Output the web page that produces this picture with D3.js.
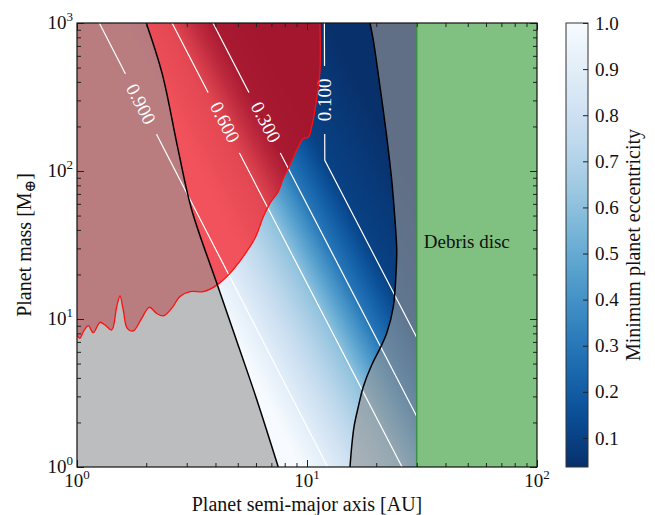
<!DOCTYPE html>
<html>
<head>
<meta charset="utf-8">
<style>
    body {
        margin: 0;
        background: #fff;
    }
    svg {
        display: block;
    }
    text {
        font-family: "Liberation Serif", "DejaVu Serif", serif;
        fill: #111;
    }
    .axis .domain {
        display: none;
    }
    .axis .tick line {
        stroke: #222;
        stroke-width: 1;
    }
    .tick-label {
        font-size: 19px;
    }
    .axis-title {
        font-size: 20px;
    }
    .contour-label {
        font-size: 19px;
        fill: #fff;
    }
    .cbar .tick text {
        font-size: 19px;
        font-family: "Liberation Serif", "DejaVu Serif", serif;
        fill: #111;
    }
</style>
</head>
<body>
<svg width="655" height="515"></svg>

<script src="https://cdnjs.cloudflare.com/ajax/libs/d3/7.8.5/d3.min.js"></script>
<script>
    // ---- data ----
    let xMajor = [1, 10, 100];
    let yMajor = [1, 10, 100, 1000];
    let cbTicks = [0.1, 0.2, 0.3, 0.4, 0.5, 0.6, 0.7, 0.8, 0.9, 1.0];
    let cbRange = [0.037, 1.0];

    // iso-eccentricity lines run as M ~ a^-3; each level is given by
    // the semi-major axis [AU] where it crosses 1 Earth mass
    let isoSlope = -3;
    let eccLevels = [1.0, 0.9, 0.6, 0.3, 0.1, 0.037];
    let eccAtOneMass = [9.3, 12.3, 25.9, 39.0, 58.8, 126];

    // white contours [a (AU), M (Earth masses)]
    let contourNames = ["0.900", "0.600", "0.300", "0.100"];
    let contourLines = [
        [[1.25, 1000], [12.3, 1]],
        [[2.59, 1000], [25.9, 1]],
        [[3.90, 1000], [39.0, 1]],
        [[11.9, 1000], [11.95, 118], [58.8, 1]]
    ];
    let contourLabelAt = [[1.90, 284], [4.40, 214], [6.63, 214], [11.91, 302]];

    // red boundary (lower edge of the red region)
    let redEdge = [
        [1.0, 7.8], [1.03, 7.41], [1.065, 8.2], [1.12, 9.01], [1.177, 8.08],
        [1.259, 9.5], [1.324, 9.11], [1.415, 8.43], [1.488, 12.1], [1.538, 14.3],
        [1.589, 11.5], [1.654, 8.65], [1.757, 8.3], [1.911, 10.1], [2.062, 12.0],
        [2.221, 10.9], [2.373, 10.5], [2.581, 11.8], [2.804, 14.2], [3.10, 15.3],
        [3.54, 15.3], [3.79, 15.9], [4.11, 17.2], [4.55, 19.8], [5.28, 26.4],
        [5.94, 35.1], [6.46, 49.1], [6.90, 60.5], [7.50, 72.5], [7.89, 89.3],
        [8.29, 104], [9.17, 146], [9.64, 166], [10.13, 169], [10.48, 199],
        [10.83, 258], [11.20, 371], [11.39, 481], [11.39, 1000]
    ];

    // black boundaries
    let leftEdge = [
        [2.0, 1000], [2.35, 450], [2.75, 140], [3.15, 55], [4.05, 17.5],
        [5.1, 6.2], [6.05, 2.85], [7.5, 1]
    ];
    let rightEdge = [
        [18.79, 1000], [19.42, 767], [20.77, 371], [22.21, 171], [23.35, 86.9],
        [24.13, 46.6], [24.55, 29.3], [24.38, 20.4], [23.73, 12.1], [22.21, 8.0],
        [20.77, 6.33], [19.11, 4.89], [17.57, 3.49], [16.71, 2.55], [16.01, 1.87],
        [15.64, 1.37], [15.38, 1]
    ];

    let debrisDisc = [30, 100];

    // ---- layout ----
    let plot = { left: 77, right: 537, top: 23, bottom: 467 };
    let svg = d3.select("svg");

    let x = d3.scaleLog().domain([1, 100]).range([plot.left, plot.right]);
    let y = d3.scaleLog().domain([1, 1000]).range([plot.bottom, plot.top]);

    let eccScale = d3.scaleLog().domain(eccAtOneMass).range(eccLevels);
    let blue = e => d3.interpolateBlues((cbRange[1] - e) / (cbRange[1] - cbRange[0]));
    let red = d3.scaleLinear()
        .domain([0.8, 0.62, 0.45, 0.3, 0.1])
        .range(["#f2525b", "#e34852", "#c22d40", "#a91a31", "#a3162d"])
        .clamp(true);

    let defs = svg.append("defs");

    defs.append("clipPath").attr("id", "plotClip")
        .append("rect")
        .attr("x", plot.left).attr("y", plot.top)
        .attr("width", plot.right - plot.left)
        .attr("height", plot.bottom - plot.top);

    // gradient across the iso-lines, measured along the 1 M_earth edge
    let dx = x(10) - x(1);
    let dy = y(Math.pow(10, isoSlope)) - y(1);
    let nrm = Math.hypot(dx, dy);
    let nx = dy / nrm, ny = -dx / nrm;
    let x0 = x(eccAtOneMass[0]);
    let x1 = x(eccAtOneMass[eccAtOneMass.length - 1]);
    let L = (x1 - x0) * nx;

    let samples = d3.range(61).map(i => {
        let la = Math.log10(eccAtOneMass[0]) +
            i / 60 * (Math.log10(eccAtOneMass[eccAtOneMass.length - 1]) - Math.log10(eccAtOneMass[0]));
        let a = Math.pow(10, la);
        return { offset: (x(a) - x0) / (x1 - x0), e: eccScale(a) };
    });

    function makeGrad(id, colorFn) {
        let g = defs.append("linearGradient")
            .attr("id", id)
            .attr("gradientUnits", "userSpaceOnUse")
            .attr("x1", x0).attr("y1", plot.bottom)
            .attr("x2", x0 + L * nx).attr("y2", plot.bottom + L * ny);
        g.selectAll("stop")
            .data(samples)
            .join("stop")
            .attr("offset", d => d.offset)
            .attr("stop-color", d => colorFn(d.e));
    }
    makeGrad("eccGrad", blue);
    makeGrad("redGrad", red);

    let line = d3.line().x(d => x(d[0])).y(d => y(d[1]));
    let smooth = d3.line().x(d => x(d[0])).y(d => y(d[1])).curve(d3.curveCatmullRom.alpha(0.5));

    let field = svg.append("g").attr("clip-path", "url(#plotClip)");

    // eccentricity map
    field.append("rect")
        .attr("x", plot.left).attr("y", plot.top)
        .attr("width", plot.right - plot.left)
        .attr("height", plot.bottom - plot.top)
        .attr("fill", "url(#eccGrad)");

    // red region above the red boundary
    field.append("path")
        .attr("d", smooth(redEdge) + `L${x(1)},${y(1000)}L${x(1)},${y(redEdge[0][1])}Z`)
        .attr("fill", "url(#redGrad)");

    // grey shaded (excluded) regions
    field.append("path")
        .attr("d", smooth(leftEdge) + `L${x(1)},${y(1)}L${x(1)},${y(1000)}Z`)
        .attr("fill", "rgb(150,150,150)")
        .attr("fill-opacity", 0.62);

    field.append("path")
        .attr("d", smooth(rightEdge) +
            `L${x(debrisDisc[0])},${y(1)}L${x(debrisDisc[0])},${y(1000)}Z`)
        .attr("fill", "rgb(150,150,150)")
        .attr("fill-opacity", 0.62);

    // contour lines with gaps for labels
    let angle = Math.atan2(dy, dx) * 180 / Math.PI;
    let labels = contourNames.map((t, i) => ({
        text: t, a: contourLabelAt[i][0], m: contourLabelAt[i][1],
        rot: i == 3 ? -90 : angle
    }));

    let mask = defs.append("mask").attr("id", "gapMask")
        .attr("maskUnits", "userSpaceOnUse")
        .attr("x", 0).attr("y", 0).attr("width", 655).attr("height", 515);
    mask.append("rect").attr("width", 655).attr("height", 515).attr("fill", "white");
    mask.selectAll(".gap")
        .data(labels)
        .join("rect")
        .attr("x", -34).attr("y", -11).attr("width", 68).attr("height", 22)
        .attr("fill", "black")
        .attr("transform", d => `translate(${x(d.a)},${y(d.m)}) rotate(${d.rot})`);

    field.append("g")
        .attr("mask", "url(#gapMask)")
        .selectAll("path")
        .data(contourLines)
        .join("path")
        .attr("d", line)
        .attr("fill", "none")
        .attr("stroke", "#fff")
        .attr("stroke-width", 1.2);

    field.selectAll(".contour-label")
        .data(labels)
        .join("text")
        .attr("class", "contour-label")
        .attr("text-anchor", "middle")
        .attr("dominant-baseline", "central")
        .attr("transform", d => `translate(${x(d.a)},${y(d.m)}) rotate(${d.rot})`)
        .text(d => d.text);

    // debris disc
    field.append("rect")
        .attr("x", x(debrisDisc[0])).attr("y", plot.top)
        .attr("width", x(debrisDisc[1]) - x(debrisDisc[0]))
        .attr("height", plot.bottom - plot.top)
        .attr("fill", "#80c080");
    field.append("line")
        .attr("x1", x(debrisDisc[0])).attr("x2", x(debrisDisc[0]))
        .attr("y1", plot.top).attr("y2", plot.bottom)
        .attr("stroke", "#3f8f4a").attr("stroke-width", 1.5);

    svg.append("text")
        .attr("x", x(debrisDisc[0]) + 7)
        .attr("y", y(30))
        .style("font-size", "19px")
        .text("Debris disc");

    // boundaries
    field.append("path")
        .attr("d", smooth(redEdge))
        .attr("fill", "none").attr("stroke", "#ff1010").attr("stroke-width", 1.3);
    field.append("path")
        .attr("d", smooth(leftEdge))
        .attr("fill", "none").attr("stroke", "#000").attr("stroke-width", 1.5);
    field.append("path")
        .attr("d", smooth(rightEdge))
        .attr("fill", "none").attr("stroke", "#000").attr("stroke-width", 1.5);

    // ---- axes (ticks inside on all sides) ----
    let xMinor = x.ticks().filter(d => xMajor.indexOf(d) < 0);
    let yMinor = y.ticks().filter(d => yMajor.indexOf(d) < 0);

    function addAxis(fn, scale, vals, len, tr) {
        svg.append("g")
            .attr("class", "axis")
            .attr("transform", tr)
            .call(fn(scale).tickValues(vals).tickSize(-len).tickFormat(""));
    }
    addAxis(d3.axisBottom, x, xMajor, 7, `translate(0,${plot.bottom})`);
    addAxis(d3.axisBottom, x, xMinor, 4, `translate(0,${plot.bottom})`);
    addAxis(d3.axisTop, x, xMajor, 7, `translate(0,${plot.top})`);
    addAxis(d3.axisTop, x, xMinor, 4, `translate(0,${plot.top})`);
    addAxis(d3.axisLeft, y, yMajor, 7, `translate(${plot.left},0)`);
    addAxis(d3.axisLeft, y, yMinor, 4, `translate(${plot.left},0)`);
    addAxis(d3.axisRight, y, yMajor, 7, `translate(${plot.right},0)`);
    addAxis(d3.axisRight, y, yMinor, 4, `translate(${plot.right},0)`);

    svg.append("rect")
        .attr("x", plot.left).attr("y", plot.top)
        .attr("width", plot.right - plot.left)
        .attr("height", plot.bottom - plot.top)
        .attr("fill", "none").attr("stroke", "#111").attr("stroke-width", 1.2);

    // power-of-ten labels
    function powLabel(sel) {
        sel.append("tspan").text("10");
        sel.append("tspan")
            .attr("dy", -8)
            .style("font-size", "13px")
            .text(d => Math.round(Math.log10(d)));
    }
    svg.selectAll(".xlab")
        .data(xMajor)
        .join("text")
        .attr("class", "tick-label xlab")
        .attr("x", d => x(d))
        .attr("y", plot.bottom + 20)
        .attr("text-anchor", "middle")
        .call(powLabel);

    svg.selectAll(".ylab")
        .data(yMajor)
        .join("text")
        .attr("class", "tick-label ylab")
        .attr("x", plot.left - 4)
        .attr("y", d => y(d) + 6)
        .attr("text-anchor", "end")
        .call(powLabel);

    svg.append("text")
        .attr("class", "axis-title")
        .attr("x", (plot.left + plot.right) / 2)
        .attr("y", 511)
        .attr("text-anchor", "middle")
        .text("Planet semi-major axis [AU]");

    let yTitle = svg.append("text")
        .attr("class", "axis-title")
        .attr("transform", `translate(31,${(plot.top + plot.bottom) / 2}) rotate(-90)`)
        .attr("text-anchor", "middle");
    yTitle.append("tspan").text("Planet mass [M");
    yTitle.append("tspan").attr("dy", 4).style("font-size", "15px").text("\u2295");
    yTitle.append("tspan").attr("dy", -4).text("]");

    // ---- colorbar ----
    let cb = { left: 566, width: 22 };
    let cbScale = d3.scaleLinear().domain(cbRange).range([plot.bottom, plot.top]);

    let cbGrad = defs.append("linearGradient")
        .attr("id", "cbGrad")
        .attr("x1", 0).attr("y1", 0).attr("x2", 0).attr("y2", 1);
    cbGrad.selectAll("stop")
        .data(d3.range(41).map(i => i / 40))
        .join("stop")
        .attr("offset", d => d)
        .attr("stop-color", d => blue(cbRange[1] - d * (cbRange[1] - cbRange[0])));

    svg.append("rect")
        .attr("x", cb.left).attr("y", plot.top)
        .attr("width", cb.width).attr("height", plot.bottom - plot.top)
        .attr("fill", "url(#cbGrad)")
        .attr("stroke", "#333").attr("stroke-width", 1);

    svg.append("g")
        .attr("class", "axis cbar")
        .attr("transform", `translate(${cb.left + cb.width},0)`)
        .call(d3.axisRight(cbScale)
            .tickValues(cbTicks)
            .tickSize(-5)
            .tickPadding(7)
            .tickFormat(d3.format(".1f")));

    svg.append("text")
        .attr("class", "axis-title")
        .attr("transform", `translate(640,${(plot.top + plot.bottom) / 2}) rotate(-90)`)
        .attr("text-anchor", "middle")
        .text("Minimum planet eccentricity");
</script>
</body>
</html>
